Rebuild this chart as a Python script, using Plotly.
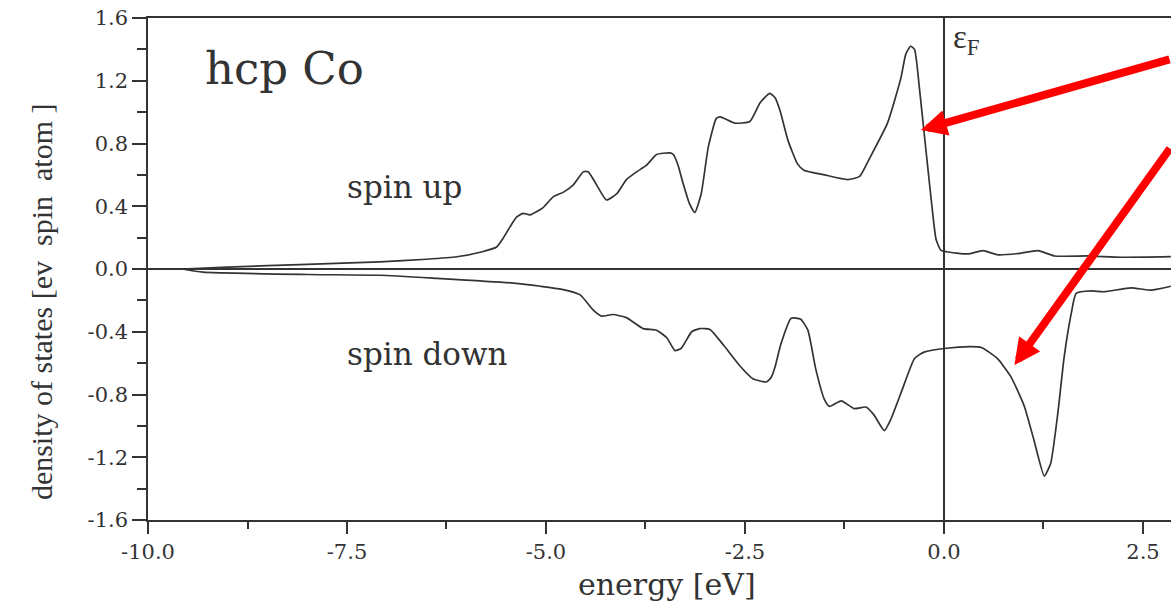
import plotly.graph_objects as go

# ---- data ----
up_energy = [-9.57, -9.0, -8.0, -7.09, -6.5, -6.12, -5.8, -5.62, -5.54, -5.45, -5.37, -5.29,
             -5.20, -5.04, -4.91, -4.78, -4.66, -4.53, -4.47, -4.38, -4.24, -4.11, -3.99,
             -3.86, -3.74, -3.61, -3.44, -3.40, -3.34, -3.28, -3.20, -3.13, -3.05, -2.96,
             -2.86, -2.81, -2.63, -2.44, -2.31, -2.19, -2.12, -2.06, -1.96, -1.84, -1.76,
             -1.50, -1.21, -1.06, -0.92, -0.71, -0.54, -0.48, -0.42, -0.37, -0.31, -0.25,
             -0.16, -0.10, -0.04, 0.03, 0.30, 0.49, 0.68, 0.95, 1.18, 1.39, 1.81, 2.23, 2.85]
up_dos = [0.0, 0.012, 0.03, 0.045, 0.062, 0.078, 0.11, 0.14, 0.195, 0.27, 0.33, 0.355,
          0.345, 0.39, 0.46, 0.49, 0.535, 0.62, 0.62, 0.55, 0.44, 0.48, 0.57,
          0.62, 0.66, 0.73, 0.74, 0.73, 0.66, 0.55, 0.42, 0.36, 0.48, 0.78,
          0.96, 0.97, 0.93, 0.94, 1.06, 1.12, 1.09, 1.01, 0.82, 0.67, 0.63,
          0.60, 0.57, 0.59, 0.72, 0.93, 1.22, 1.37, 1.42, 1.40, 1.16, 0.87,
          0.44, 0.19, 0.12, 0.11, 0.096, 0.117, 0.09, 0.10, 0.117, 0.083, 0.083, 0.075, 0.079]

down_energy = [-9.57, -9.31, -8.0, -7.09, -6.37, -5.41, -5.07, -4.80, -4.57, -4.41, -4.30,
               -4.16, -3.99, -3.78, -3.61, -3.48, -3.38, -3.30, -3.17, -3.07, -2.94, -2.77,
               -2.56, -2.40, -2.23, -2.17, -2.12, -2.05, -1.92, -1.80, -1.71, -1.61, -1.50,
               -1.44, -1.29, -1.13, -0.98, -0.88, -0.75, -0.67, -0.54, -0.37, -0.25, 0.03,
               0.34, 0.47, 0.67, 0.84, 1.01, 1.13, 1.26, 1.34, 1.43, 1.51, 1.60, 1.66,
               1.85, 2.01, 2.35, 2.60, 2.85]
down_dos = [0.0, -0.02, -0.035, -0.04, -0.06, -0.09, -0.11, -0.13, -0.165, -0.26, -0.30,
            -0.29, -0.31, -0.38, -0.39, -0.44, -0.52, -0.505, -0.40, -0.38, -0.385, -0.485,
            -0.62, -0.70, -0.72, -0.69, -0.62, -0.48, -0.314, -0.32, -0.39, -0.64, -0.835,
            -0.876, -0.84, -0.89, -0.88, -0.93, -1.03, -0.96, -0.79, -0.57, -0.53, -0.505,
            -0.495, -0.50, -0.57, -0.686, -0.876, -1.09, -1.32, -1.24, -0.92, -0.56, -0.28, -0.155,
            -0.14, -0.145, -0.12, -0.135, -0.11]

x_tickvals = [-10.0, -7.5, -5.0, -2.5, 0.0, 2.5]
x_ticktext = ["-10.0", "-7.5", "-5.0", "-2.5", "0.0", "2.5"]
y_tickvals = [1.6, 1.2, 0.8, 0.4, 0.0, -0.4, -0.8, -1.2, -1.6]
y_ticktext = ["1.6", "1.2", "0.8", "0.4", "0.0", "-0.4", "-0.8", "-1.2", "-1.6"]

INK = "#333333"
SERIF = "DejaVu Serif"

fig = go.Figure()
fig.add_trace(go.Scatter(x=up_energy, y=up_dos, mode="lines",
                         line=dict(color=INK, width=1.7, shape="spline", smoothing=0.5),
                         showlegend=False))
fig.add_trace(go.Scatter(x=down_energy, y=down_dos, mode="lines",
                         line=dict(color=INK, width=1.7, shape="spline", smoothing=0.5),
                         showlegend=False))

fig.update_layout(
    width=1171, height=606,
    margin=dict(l=148, r=0, t=18, b=86),
    paper_bgcolor="white", plot_bgcolor="white",
    font=dict(family=SERIF, color=INK),
    xaxis=dict(range=[-10, 2.852], tickmode="array", tickvals=x_tickvals, ticktext=x_ticktext,
               ticks="outside", ticklen=12, tickwidth=1.5, tickcolor=INK,
               showline=True, linecolor=INK, linewidth=1.5, mirror=True,
               showgrid=False, zeroline=True, zerolinecolor=INK, zerolinewidth=1.5,
               tickfont=dict(family=SERIF, size=21, color=INK),
               minor=dict(tickmode="linear", tick0=-10, dtick=1.25, ticks="outside",
                          ticklen=7, tickwidth=1.5, tickcolor=INK, showgrid=False)),
    yaxis=dict(range=[-1.6, 1.6], tickmode="array", tickvals=y_tickvals, ticktext=y_ticktext,
               ticks="outside", ticklen=14, tickwidth=1.5, tickcolor=INK,
               showline=True, linecolor=INK, linewidth=1.5, mirror=False,
               showgrid=False, zeroline=True, zerolinecolor=INK, zerolinewidth=1.5,
               tickfont=dict(family=SERIF, size=21, color=INK),
               minor=dict(tickmode="linear", tick0=-1.6, dtick=0.2, ticks="outside",
                          ticklen=9, tickwidth=1.5, tickcolor=INK, showgrid=False)),
)

annotations = [
    dict(text="hcp Co", x=-9.31, y=1.275, xref="x", yref="y", xanchor="left", yanchor="middle",
         showarrow=False, font=dict(family=SERIF, size=45, color=INK)),
    dict(text="spin up", x=-7.52, y=0.523, xref="x", yref="y", xanchor="left", yanchor="middle",
         showarrow=False, font=dict(family=SERIF, size=31, color=INK)),
    dict(text="spin down", x=-7.52, y=-0.542, xref="x", yref="y", xanchor="left", yanchor="middle",
         showarrow=False, font=dict(family=SERIF, size=31, color=INK)),
    dict(text="ε<sub>F</sub>", x=0.09, y=1.46, xref="x", yref="y", xanchor="left", yanchor="middle",
         showarrow=False, font=dict(family="Liberation Serif", size=33, color=INK)),
    dict(text="density of states [ev  spin  atom ]", x=-0.1046, y=0.436, xref="paper", yref="paper",
         xanchor="center", yanchor="middle", textangle=-90, showarrow=False,
         font=dict(family="Liberation Serif", size=30, color=INK)),
    dict(text="energy [eV]", x=0.507, y=-0.129, xref="paper", yref="paper",
         xanchor="center", yanchor="middle", showarrow=False,
         font=dict(family=SERIF, size=30, color=INK)),
    # red arrows (tails kept at the right edge of the figure)
    dict(x=-0.29, y=0.886, xref="x", yref="y", ax=252, ay=-71, axref="pixel", ayref="pixel",
         text="", showarrow=True, arrowhead=2, arrowsize=0.65, arrowwidth=8, arrowcolor="#ff0000"),
    dict(x=0.885, y=-0.612, xref="x", yref="y", ax=159, ay=-218, axref="pixel", ayref="pixel",
         text="", showarrow=True, arrowhead=2, arrowsize=0.65, arrowwidth=8, arrowcolor="#ff0000"),
]
fig.update_layout(annotations=annotations)

fig.write_html("out.html")
